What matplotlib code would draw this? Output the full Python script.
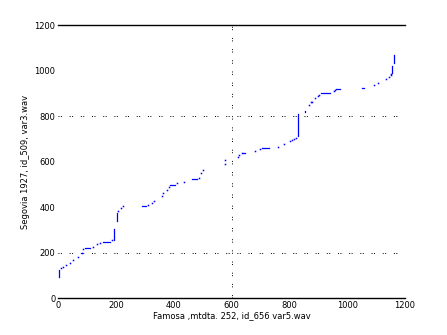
import numpy as np
import matplotlib
matplotlib.use('Agg')
import matplotlib.pyplot as plt

# scattered alignment points (x frame, y frame)
dot_x = [9, 17, 29, 40, 52, 69, 81, 87, 121, 133, 145, 185, 208, 216, 223,
         312, 324, 332, 358, 364, 376, 382, 410, 434, 488, 494, 500,
         576, 579, 621, 627, 635, 682, 699, 760, 783, 801, 809, 817, 824,
         867, 874, 879, 890, 899, 902, 954, 959, 1092, 1106, 1134, 1145, 1150, 1153]
dot_y = [132, 139, 146, 154, 168, 183, 198, 215, 227, 237, 244, 256, 385, 398, 403,
         410, 417, 425, 449, 461, 476, 488, 505, 512, 527, 549, 564,
         590, 608, 622, 630, 636, 646, 656, 666, 679, 691, 697, 698, 705,
         848, 860, 864, 880, 890, 893, 909, 915, 935, 944, 962, 973, 981, 985]

# straight runs of the path
run_x0 = [3, 92, 156, 194, 202, 291, 387, 462, 638, 705, 829, 853, 908, 963, 1050, 1155, 1162]
run_x1 = [3, 110, 179, 194, 202, 303, 405, 482, 645, 728, 829, 853, 942, 975, 1058, 1155, 1162]
run_y0 = [91, 220, 246, 256, 337, 404, 496, 523, 637, 659, 712, 817, 902, 918, 922, 988, 1032]
run_y1 = [124, 220, 246, 303, 373, 404, 496, 523, 637, 659, 810, 823, 902, 918, 922, 1020, 1069]

fig = plt.figure(figsize=(4.47, 3.35), dpi=100)
ax = fig.add_axes([0.130, 0.110, 0.776, 0.815])

for x0, x1, y0, y1 in zip(run_x0, run_x1, run_y0, run_y1):
    ax.plot([x0, x1], [y0, y1], color='blue', lw=0.9)
ax.plot(dot_x, dot_y, linestyle='none', marker='s', ms=1.1, mec='none', color='blue')

grid_ls = (0, (1, 1.5, 1, 8))
ax.axvline(600, color='black', ls=grid_ls, lw=0.7)
for yv in [200, 800]:
    ax.axhline(yv, color='black', ls=grid_ls, lw=0.7)

ax.set_xlim(0, 1200)
ax.set_ylim(0, 1200)
ax.set_xticks(range(0, 1201, 200))
ax.set_yticks(range(0, 1201, 200))
ax.spines['left'].set_visible(False)
ax.spines['right'].set_visible(False)
ax.spines['top'].set_linewidth(1.0)
ax.spines['bottom'].set_linewidth(1.0)
ax.tick_params(length=0, labelsize=6, pad=2)

ax.set_xlabel('Famosa ,mtdta. 252, id_656 var5.wav', fontsize=6, labelpad=1)
ax.set_ylabel('Segovia 1927, id_509, var3.wav', fontsize=6, labelpad=3)

fig.savefig('out.png', dpi=100)
